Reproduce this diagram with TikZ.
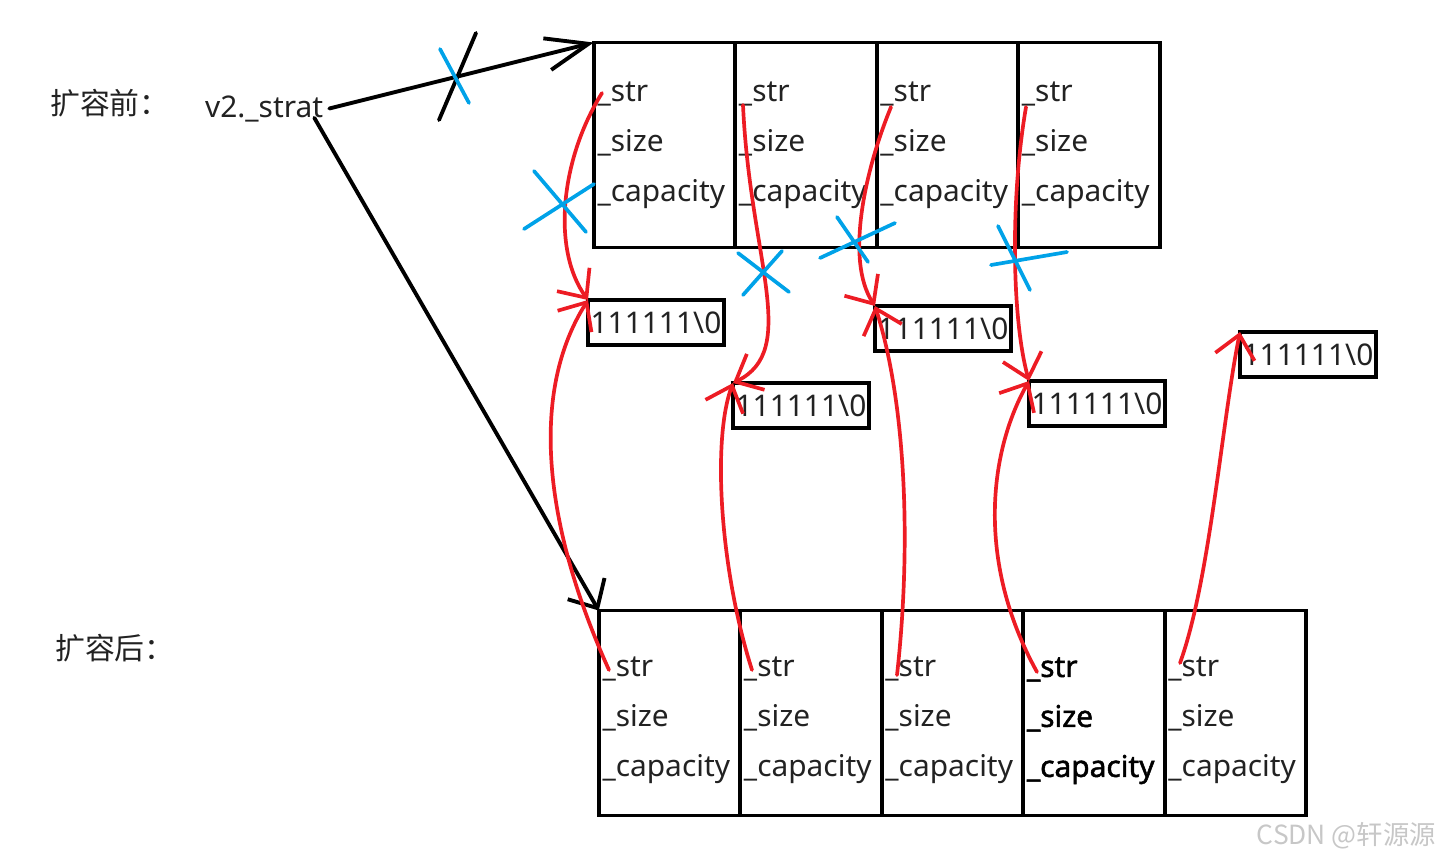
\documentclass[tikz,border=0pt]{standalone}
\usepackage{fontspec}
\setmainfont{Noto Sans}
\newfontfamily\cjk{Noto Sans CJK SC}
\newfontfamily\heavy{Noto Sans}[FakeBold=1.6]
\usetikzlibrary{arrows.meta,positioning}
\definecolor{penred}{RGB}{237,28,36}
\definecolor{penblue}{RGB}{0,162,232}
\definecolor{inkgray}{RGB}{34,34,34}
\newcommand\fieldlist{\_str\\\_size\\\_capacity}
\newcommand\fieldlistlow{\rule{0pt}{0.7cm}\_str\\\_size\\\_capacity}
\tikzset{
  cell/.style={draw=black,line width=2.2pt,outer sep=0pt,minimum width=2.83cm,minimum height=4.1cm,
    text width=2.68cm,align=left,inner xsep=0.06cm,text=inkgray,font=\fontsize{17}{28.45}\selectfont},
  buf/.style={draw=black,line width=2.2pt,outer sep=0pt,anchor=north west,inner xsep=1.5pt,inner ysep=0pt,
    minimum height=0.9cm,text=inkgray,font=\fontsize{17}{20}\selectfont},
  tag/.style={anchor=west,text=inkgray,font=\cjk\fontsize{17}{17}\selectfont},
  ptr/.style={line width=2.2pt,line cap=round},
  copyline/.style={penred,line width=2.1pt,line cap=round,-{Straight Barb[length=0.45cm,width=0.8cm]}},
  cut/.style={penblue,line width=2.1pt,line cap=round}
}
\begin{document}
\begin{tikzpicture}[x=0.02cm,y=-0.02cm]
\useasboundingbox (0,0) rectangle (1442,863);

% labels
\node[tag] (before) at (44,103) {扩容前：};
\node[tag] (after) at (49,648) {扩容后：};
\node[anchor=base west,text=inkgray,font=\fontsize{17}{20}\selectfont] (v2) at (199,117) {v2.\_strat};

% old array
\node[cell] (old1) at (664.5,145) {\fieldlist};
\node[cell,right=0pt of old1] (old2) {\fieldlist};
\node[cell,right=0pt of old2] (old3) {\fieldlist};
\node[cell,right=0pt of old3] (old4) {\fieldlist};

% new array
\node[cell] (new1) at (669.5,713) {\fieldlistlow};
\node[cell,right=0pt of new1] (new2) {\fieldlistlow};
\node[cell,right=0pt of new2] (new3) {\fieldlistlow};
\node[cell,right=0pt of new3,font=\heavy\fontsize{17}{28.45}\selectfont,text=black] (new4) {\fieldlistlow};
\node[cell,right=0pt of new4] (new5) {\fieldlistlow};

% string buffers
\node[buf] (buf1) at (588,300) {111111\textbackslash 0};
\node[buf] (buf2) at (733,383) {111111\textbackslash 0};
\node[buf] (buf3) at (875,306) {111111\textbackslash 0};
\node[buf] (buf4) at (1029,381) {111111\textbackslash 0};
\node[buf] (buf5) at (1240,332) {111111\textbackslash 0};

% v2._strat pointers
\draw[ptr,-{Straight Barb[length=0.85cm,width=0.65cm]}] (v2.east) -- (old1.north west);
\draw[ptr,-{Straight Barb[length=0.45cm,width=0.85cm]}] ([xshift=-0.3cm,yshift=0.2cm]v2.south east) -- (new1.north west);
\draw[ptr] (476,33) -- (439,120);
\draw[cut] (440,49) -- (469,103);

% _str pointers
\coordinate (o1s) at (602,93);
\coordinate (o2s) at (743,105);
\coordinate (o3s) at (891,107);
\coordinate (o4s) at (1026,107);
\coordinate (n1s) at (609,670);
\coordinate (n2s) at (752,670);
\coordinate (n3s) at (897,675);
\coordinate (n4s) at (1037,672);
\coordinate (n5s) at (1180,663);

\draw[copyline] (o1s) .. controls (560,160) and (552,250) .. (buf1.north west);
\draw[copyline] (o2s) .. controls (750,260) and (800,350) .. (buf2.north west);
\draw[copyline] (o3s) .. controls (865,170) and (845,260) .. (buf3.north west);
\draw[copyline] (o4s) .. controls (1010,200) and (1012,320) .. (buf4.north west);
\draw[copyline] (n1s) .. controls (550,540) and (525,400) .. (buf1.north west);
\draw[copyline] (n2s) .. controls (720,570) and (712,440) .. (buf2.north west);
\draw[copyline] (n3s) .. controls (912,540) and (905,400) .. (buf3.north west);
\draw[copyline] (n4s) .. controls (975,560) and (990,450) .. (buf4.north west);
\draw[copyline] (n5s) .. controls (1210,580) and (1222,420) .. (buf5.north west);

% crossed out
\draw[cut] (524,229) -- (594,184) (534,171) -- (586,232);
\draw[cut] (738,253) -- (789,292) (782,251) -- (743,295);
\draw[cut] (820,258) -- (895,223) (837,217) -- (868,262);
\draw[cut] (991,265) -- (1067,252) (998,226) -- (1030,290);

\node[anchor=east,text=black!22,font=\cjk\fontsize{15}{15}\selectfont] (mark) at (1442,836) {CSDN @轩源源};
\end{tikzpicture}
\end{document}
